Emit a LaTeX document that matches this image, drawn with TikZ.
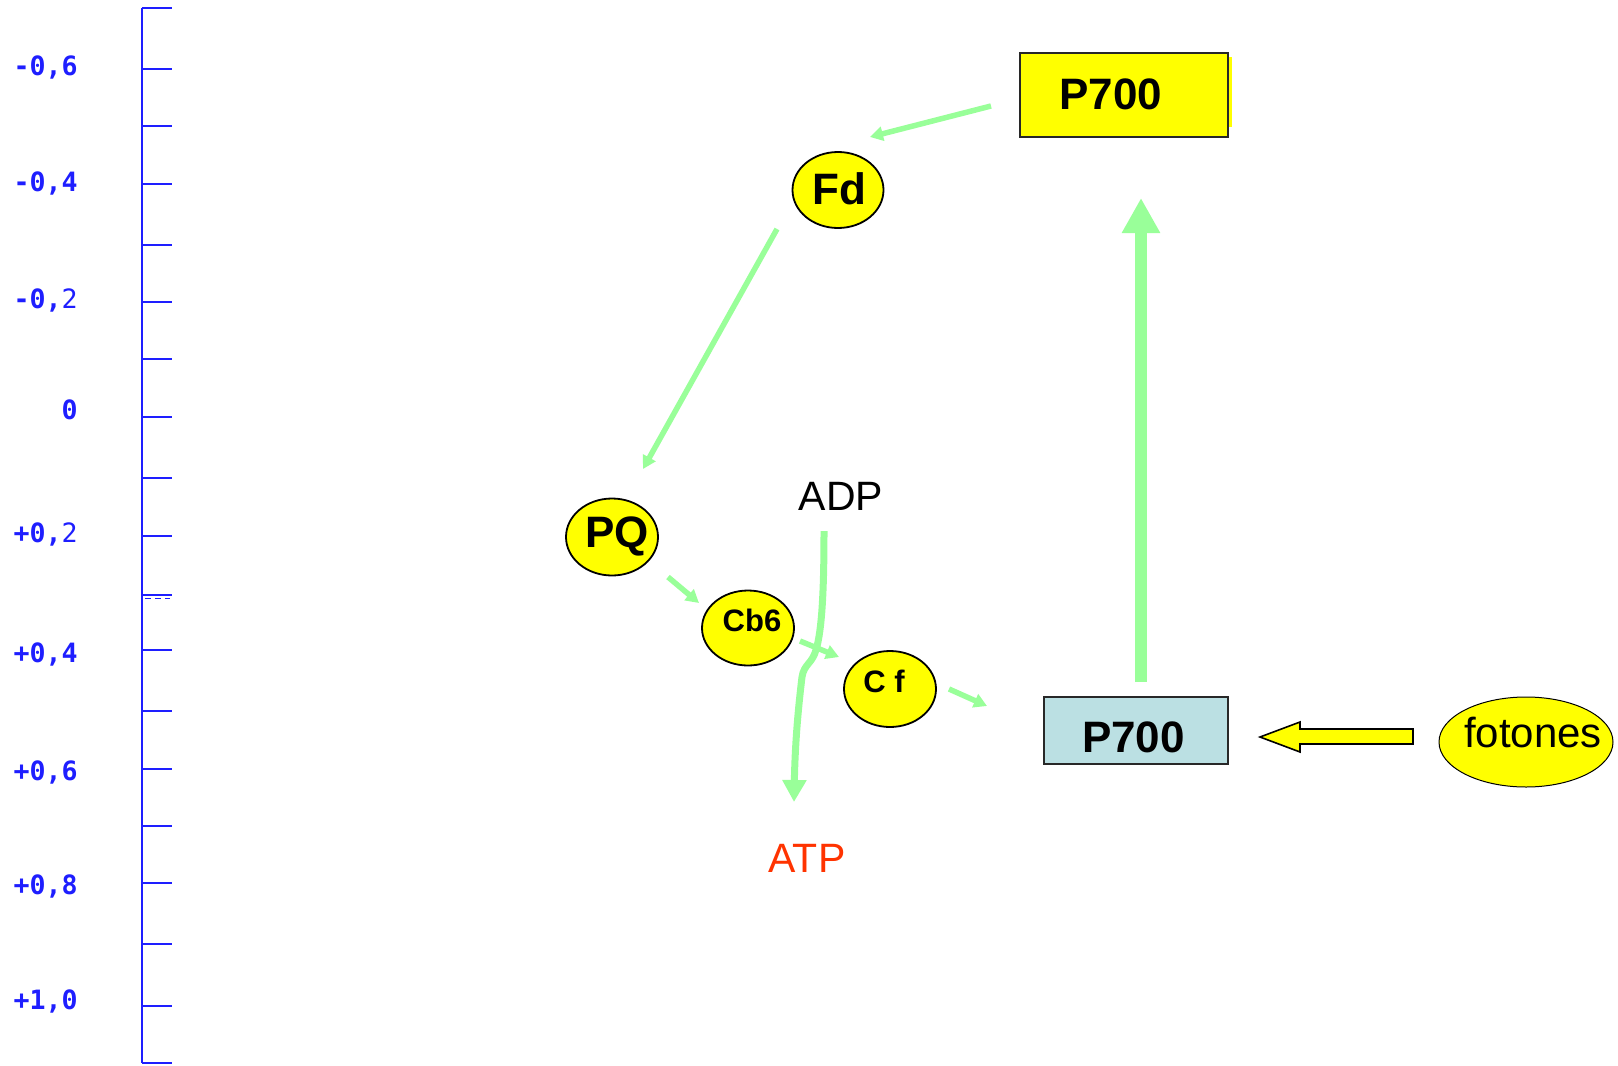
\documentclass[tikz,border=0pt]{standalone}
\usepackage{fontspec}
\setmainfont{Liberation Sans}
\newfontfamily\monofont{DejaVu Sans Mono}
\usetikzlibrary{arrows.meta,shapes.geometric}
\definecolor{ax}{RGB}{30,30,255}
\definecolor{grn}{RGB}{153,255,153}
\definecolor{yel}{RGB}{255,255,0}
\definecolor{pblue}{RGB}{187,224,227}
\definecolor{atpred}{RGB}{255,51,0}
\definecolor{boxedge}{RGB}{40,40,40}
\begin{document}
\begin{tikzpicture}[x=0.5pt,y=-0.5pt,
  axlab/.style={font=\monofont\bfseries\fontsize{13.3}{16}\selectfont, text=ax, anchor=base east, inner sep=0pt},
  ell/.style={ellipse, draw=black, line width=0.9pt, fill=yel, inner sep=0pt},
  bigtxt/.style={font=\bfseries\fontsize{22}{24}\selectfont, inner sep=0pt},
  smalltxt/.style={font=\bfseries\fontsize{15.5}{17}\selectfont, inner sep=0pt},
  plaintxt/.style={font=\fontsize{20.5}{22}\selectfont, inner sep=0pt},
  greenarrow/.style={draw=grn, line width=2.75pt, -{Triangle[width=7pt,length=6.5pt]}},
  boxstyle/.style={rectangle, draw=boxedge, line width=0.75pt, inner sep=0pt}
]
\useasboundingbox (0,0) rectangle (1618,1066);

% energy axis
\draw[ax, line width=0.7pt] (142,8) -- (142,1063);
\foreach \yy in {8,69,126,184,245,302,359,417,478,536,595,650,711,769,826,883,944,1006,1063}
  \draw[ax, line width=0.7pt] (142,\yy) -- (172,\yy);
\draw[ax, line width=0.4pt, dashed, dash pattern=on 3pt off 2pt] (145,598) -- (170,598);

\node[axlab] (l1) at (78,75)   {-0,6};
\node[axlab] (l2) at (78,191)  {-0,4};
\node[axlab] (l3) at (78,308)  {-0,{\mdseries 2}};
\node[axlab] (l4) at (78,419)  {0};
\node[axlab] (l5) at (78,542)  {+0,{\mdseries 2}};
\node[axlab] (l6) at (78,662)  {+0,4};
\node[axlab] (l7) at (78,780)  {+0,6};
\node[axlab] (l8) at (78,894)  {+0,8};
\node[axlab] (l9) at (78,1009) {+1,0};

% boxes
\fill[yel] (1226,57) rectangle (1232,127);
\node[boxstyle, fill=yel, minimum width=104pt, minimum height=42pt] (p700a) at (1124,95) {};
\node[bigtxt] (p700at) at (1111,94) {P700};

\node[boxstyle, fill=pblue, minimum width=92pt, minimum height=33.5pt] (p700b) at (1136,730.5) {};
\node[bigtxt] (p700bt) at (1133.5,737.5) {P700};

% ellipses
\node[ell, minimum width=45.5pt, minimum height=38pt] (fd) at (838,190) {};
\node[bigtxt] (fdt) at (839,189) {Fd};
\node[ell, minimum width=46pt, minimum height=38.5pt] (pq) at (612,537) {};
\node[bigtxt] (pqt) at (617,536) {PQ};
\node[ell, minimum width=46pt, minimum height=37.5pt] (cb) at (748,628) {};
\node[smalltxt] (cbt) at (752,620) {Cb6};
\node[ell, minimum width=46pt, minimum height=38pt] (cf) at (890,689) {};
\node[smalltxt] (cft) at (884,681) {C f};
\node[ellipse, draw=black, line width=0.5pt, fill=yel, inner sep=0pt, minimum width=87pt, minimum height=45pt] (fot) at (1526,742) {};
\node[font=\fontsize{21}{23}\selectfont, inner sep=0pt] (fott) at (1533,732.5) {fotones};

% texts
\node[plaintxt] (adp) at (841,496.5) {ADP};
\node[plaintxt, text=atpred] (atp) at (807,858) {ATP};

% connector end points
\coordinate (a1s) at (991,106);  \coordinate (a1e) at (870,137);
\coordinate (a2s) at (777,229);  \coordinate (a2e) at (643,469);
\coordinate (a3s) at (668,577);  \coordinate (a3e) at (699,603);
\coordinate (a4s) at (800,641);  \coordinate (a4e) at (839,657);
\coordinate (a5s) at (949,689);  \coordinate (a5e) at (987,706);
\coordinate (bs) at (1141,682);  \coordinate (be) at (1141,198);
\coordinate (adps) at (824,531); \coordinate (atpe) at (794,802);

\draw[greenarrow] (a1s) -- (a1e);
\draw[greenarrow] (a2s) -- (a2e);
\draw[greenarrow] (a3s) -- (a3e);
\draw[greenarrow] (a4s) -- (a4e);
\draw[greenarrow] (a5s) -- (a5e);

\draw[draw=grn, line width=6pt, -{Triangle[width=18pt,length=17.5pt]}] (bs) -- (be);

\draw[draw=grn, line width=3.5pt, -{Triangle[width=11.5pt,length=11pt]}]
  (adps) .. controls (824,590) and (822,630) .. (816,650)
  .. controls (812,664) and (804,664) .. (802,677)
  .. controls (798,710) and (795,745) .. (atpe);

% photon block arrow
\draw[fill=yel, draw=black, line width=0.8pt]
  (1260,737) -- (1300,722) -- (1300,729) -- (1413,729) -- (1413,744) -- (1300,744) -- (1300,752) -- cycle;
\end{tikzpicture}
\end{document}
